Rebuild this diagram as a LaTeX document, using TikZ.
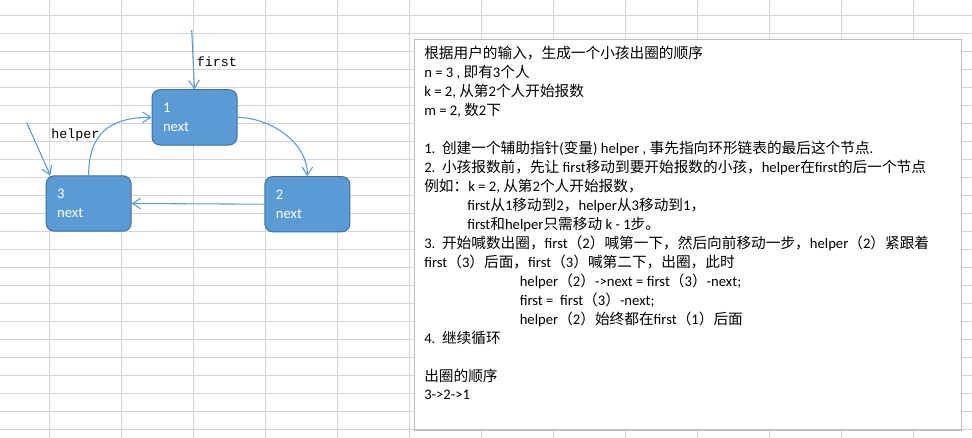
\documentclass[tikz,border=0pt]{standalone}
\usepackage{fontspec}
\setmainfont{Carlito}
\newfontfamily\cjk{Noto Sans CJK SC}
\newfontfamily\monof{Liberation Mono}
\usetikzlibrary{arrows.meta}
\definecolor{nodefill}{HTML}{5B9BD5}
\definecolor{nodedraw}{HTML}{41719C}
\definecolor{linkc}{HTML}{5B9BD5}
\definecolor{gridc}{HTML}{D4D4D4}
\definecolor{boxc}{HTML}{BFBFBF}
\tikzset{
  gridline/.style={draw=gridc, line width=0.75pt},
  nodebox/.style={rounded corners=6pt, fill=nodefill, draw=nodedraw, line width=0.75pt,
    minimum width=63.75pt, minimum height=41.5pt, text width=47.25pt,
    inner xsep=8.25pt, inner ysep=0pt, align=left, text=white,
    font=\fontsize{11}{14.25}\selectfont},
  link/.style={draw=linkc, line width=0.8pt, -{Straight Barb[length=6pt,width=8pt]}},
  ptr/.style={font=\monof\fontsize{10}{12}\selectfont, anchor=base west, inner sep=0pt},
  txt/.style={font=\fontsize{11}{13}\selectfont, anchor=base west, inner sep=0pt},
  descbox/.style={fill=white, draw=boxc, line width=0.9pt},
}
\begin{document}
\begin{tikzpicture}[x=0.75pt, y=-0.75pt]
\useasboundingbox (0,0) rectangle (972,438);
\fill[white] (0,0) rectangle (972,438);
% spreadsheet grid
\foreach \gx in {49.3,121.3,...,914} \draw[gridline] (\gx,0) -- (\gx,438);
\foreach \gy in {15.3,33.3,...,430} \draw[gridline] (0,\gy) -- (972,\gy);
% description box
\draw[descbox] (414.5,39.5) rectangle (961.7,430);
\node[txt] (l1) at (424,58.9) {\cjk 根据用户的输入，生成一个小孩出圈的顺序};
\node[txt] (l2) at (424,77.85) {n = 3 , {\cjk 即有}3{\cjk 个人}};
\node[txt] (l3) at (424,96.8) {k = 2, {\cjk 从第}2{\cjk 个人开始报数}};
\node[txt] (l4) at (424,115.75) {m = 2, {\cjk 数}2{\cjk 下}};
\node[txt] (l6) at (424,153.65) {1.\ \ {\cjk 创建一个辅助指针}({\cjk 变量}) helper , {\cjk 事先指向环形链表的最后这个节点}.};
\node[txt] (l7) at (424,172.6) {2.\ \ {\cjk 小孩报数前，先让} first{\cjk 移动到要开始报数的小孩，}helper{\cjk 在}first{\cjk 的后一个节点}};
\node[txt] (l8) at (424,191.55) {{\cjk 例如：}k = 2, {\cjk 从第}2{\cjk 个人开始报数，}};
\node[txt] (l9) at (467,210.5) {first{\cjk 从}1{\cjk 移动到}2{\cjk ，}helper{\cjk 从}3{\cjk 移动到}1{\cjk ，}};
\node[txt] (l10) at (467,229.45) {first{\cjk 和}helper{\cjk 只需移动} k - 1{\cjk 步。}};
\node[txt] (l11) at (424,248.4) {3.\ \ {\cjk 开始喊数出圈，}first{\cjk （}2{\cjk ）喊第一下，然后向前移动一步，}helper{\cjk （}2{\cjk ）紧跟着}};
\node[txt] (l12) at (424,267.35) {first{\cjk （}3{\cjk ）后面，}first{\cjk （}3{\cjk ）喊第二下，出圈，此时}};
\node[txt] (l13) at (519.5,286.3) {helper{\cjk （}2{\cjk ）}->next = first{\cjk （}3{\cjk ）}-next;};
\node[txt] (l14) at (519.5,305.25) {first =\ \ first{\cjk （}3{\cjk ）}-next;};
\node[txt] (l15) at (519.5,324.2) {helper{\cjk （}2{\cjk ）始终都在}first{\cjk （}1{\cjk ）后面}};
\node[txt] (l16) at (424,343.15) {4.\ \ {\cjk 继续循环}};
\node[txt] (l18) at (424,381.05) {\cjk 出圈的顺序};
\node[txt] (l19) at (424,400) {3->2->1};
% linked list nodes
\node[nodebox] (n1) at (194.5,117.35) {1\\next};
\node[nodebox] (n2) at (307.35,204.2) {2\\next};
\node[nodebox] (n3) at (88.65,203.5) {3\\next};
% pointers
\coordinate (ft) at (191.7,30);
\coordinate (ht) at (26.7,122.7);
\node[ptr] (lf) at (196.5,66.3) {first};
\node[ptr] (lh) at (51,139) {helper};
\draw[link] (ft) -- (n1.north);
\draw[link] (ht) -- ([xshift=3.5pt]n3.north west);
% links
\draw[link] (n3.north) .. controls (88.65,135) and (108,117.35) .. (n1.west);
\draw[link] (n1.east) .. controls (267,117.35) and (307.35,140) .. (n2.north);
\draw[link] (n2.west) -- (n3.east);
\end{tikzpicture}
\end{document}
